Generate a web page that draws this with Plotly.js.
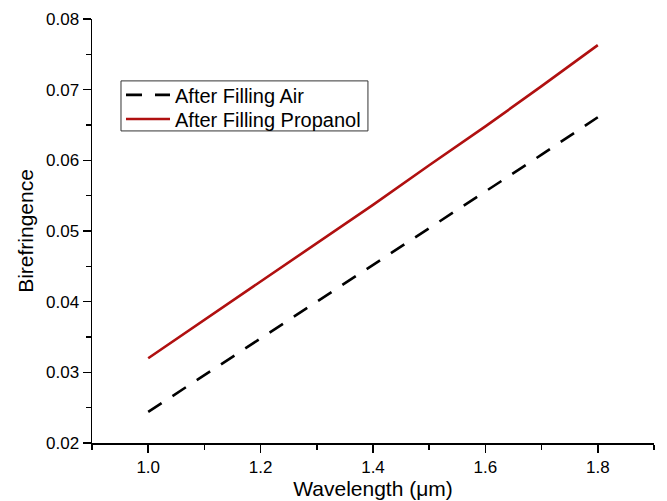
<!DOCTYPE html>
<html>
<head>
<meta charset="utf-8">
<script src="https://cdn.plot.ly/plotly-3.0.1.min.js"></script>
<style>
  html, body { margin: 0; padding: 0; background: #ffffff; }
  #chart { width: 667px; height: 501px; }
</style>
</head>
<body>
<div id="chart"></div>
<script>
// Wavelength samples (µm)
const wavelength = [1.0, 1.1, 1.2, 1.3, 1.4, 1.5, 1.6, 1.7, 1.8];
// Birefringence of the fiber with air in the holes
const birefAir = [0.0244, 0.0296, 0.0348, 0.0399, 0.0451, 0.0503, 0.0555, 0.0608, 0.0661];
// Birefringence after the holes are filled with propanol
const birefPropanol = [0.0320, 0.0374, 0.0428, 0.0483, 0.0537, 0.0593, 0.0648, 0.0705, 0.0763];
const seriesNames = ['After Filling Air', 'After Filling Propanol'];

const font = 'Liberation Sans, Arial, sans-serif';

const traces = [
  {
    x: wavelength, y: birefAir, name: seriesNames[0], legend: 'legend',
    type: 'scatter', mode: 'lines',
    line: { color: '#000000', width: 2.6, dash: '16px,13px' }
  },
  {
    x: wavelength, y: birefPropanol, name: seriesNames[1], legend: 'legend2',
    type: 'scatter', mode: 'lines',
    line: { color: '#b01010', width: 2.6 }
  }
];

const axisCommon = {
  showgrid: false, zeroline: false, showline: true,
  linecolor: '#000000', linewidth: 1.5,
  ticks: 'outside', ticklen: 8, tickwidth: 1.5, tickcolor: '#000000',
  tickfont: { family: font, size: 17, color: '#000000' },
  mirror: false
};

// one legend per series so the two rows sit close together inside a shared box
const legendCommon = {
  x: 0.0516, xanchor: 'left', yanchor: 'middle',
  bgcolor: 'rgba(0,0,0,0)', borderwidth: 0,
  font: { family: font, size: 20, color: '#000000' },
  itemwidth: 44
};

const layout = {
  width: 667, height: 501,
  margin: { l: 92, r: 13, t: 19, b: 58 },
  paper_bgcolor: '#ffffff', plot_bgcolor: '#ffffff',
  showlegend: true,
  legend: Object.assign({}, legendCommon, { y: 0.821 }),
  legend2: Object.assign({}, legendCommon, { y: 0.764 }),
  shapes: [{
    type: 'rect', xref: 'paper', yref: 'paper',
    x0: 0.0516, x1: 0.491, y0: 0.736, y1: 0.854,
    line: { color: '#333333', width: 1 }, fillcolor: 'rgba(0,0,0,0)'
  }],
  xaxis: Object.assign({}, axisCommon, {
    range: [0.9, 1.9], tick0: 1.0, dtick: 0.2, tickformat: '.1f',
    minor: { dtick: 0.1, tick0: 0.9, ticks: 'outside', ticklen: 5, tickwidth: 1.5, tickcolor: '#000000' },
    title: { text: 'Wavelength (\u03bcm)', font: { family: font, size: 21, color: '#000000' }, standoff: 2 }
  }),
  yaxis: Object.assign({}, axisCommon, {
    range: [0.02, 0.08], tick0: 0.02, dtick: 0.01, tickformat: '.2f',
    minor: { dtick: 0.005, ticks: 'outside', ticklen: 5, tickwidth: 1.5, tickcolor: '#000000' },
    title: { text: 'Birefringence', font: { family: font, size: 21, color: '#000000' }, standoff: 6 }
  })
};

Plotly.newPlot('chart', traces, layout, { displayModeBar: false, staticPlot: true });
</script>
</body>
</html>
